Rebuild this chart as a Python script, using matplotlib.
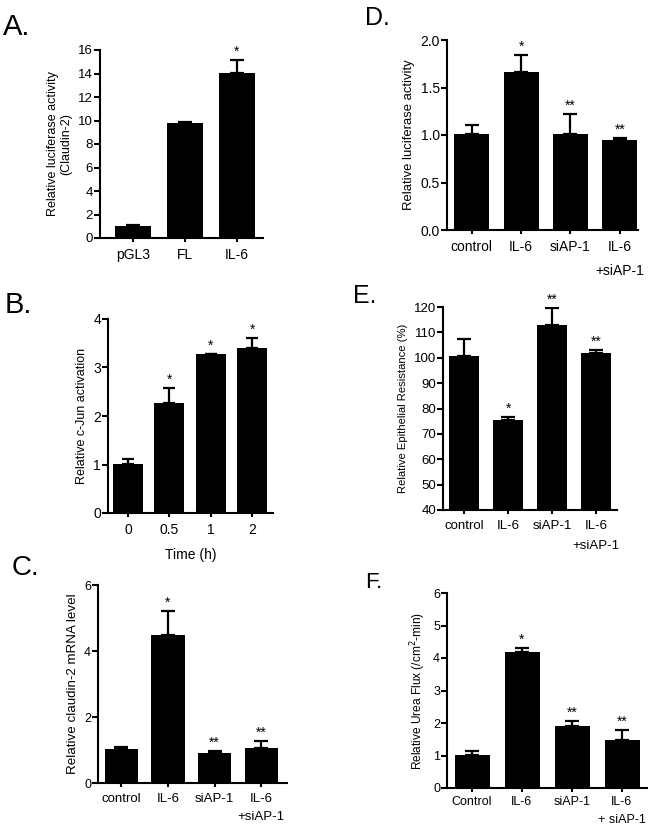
import matplotlib
matplotlib.use('Agg')
import matplotlib.pyplot as plt

plt.rcParams['font.family'] = ['Liberation Sans', 'DejaVu Sans']

W, H = 652, 826

# Panel A
a_labels = ['pGL3', 'FL', 'IL-6']
a_vals = [1.0, 9.75, 14.05]
a_errs = [0.08, 0.12, 1.1]
a_stars = ['', '', '*']

# Panel B
b_labels = ['0', '0.5', '1', '2']
b_vals = [1.02, 2.27, 3.27, 3.40]
b_errs = [0.1, 0.3, 0.01, 0.2]
b_stars = ['', '*', '*', '*']

# Panel C
c_labels = ['control', 'IL-6', 'siAP-1', 'IL-6\n+siAP-1']
c_vals = [1.03, 4.47, 0.92, 1.07]
c_errs = [0.07, 0.75, 0.04, 0.2]
c_stars = ['', '*', '**', '**']

# Panel D
d_labels = ['control', 'IL-6', 'siAP-1', 'IL-6\n+siAP-1']
d_vals = [1.01, 1.66, 1.01, 0.95]
d_errs = [0.09, 0.18, 0.21, 0.02]
d_stars = ['', '*', '**', '**']

# Panel E
e_labels = ['control', 'IL-6', 'siAP-1', 'IL-6\n+siAP-1']
e_vals = [100.5, 75.3, 113.0, 101.7]
e_errs = [7.0, 1.5, 6.5, 1.2]
e_stars = ['', '*', '**', '**']

# Panel F
f_labels = ['Control', 'IL-6', 'siAP-1', 'IL-6\n+ siAP-1']
f_vals = [1.03, 4.18, 1.90, 1.48]
f_errs = [0.12, 0.12, 0.17, 0.32]
f_stars = ['', '*', '**', '**']


def px_axes(fig, left, right, top, bottom):
  return fig.add_axes([left / W, 1 - bottom / H, (right - left) / W, (bottom - top) / H])


def bar_panel(ax, labels, vals, errs, stars, width, xlim, ylim, yticks,
              ylabel, ylab_fs, tick_fs, xtick_fs, capsize=5, linespacing=1.9, xpad=4):
  x = list(range(len(vals)))
  ax.bar(x, vals, width=width, color='black', zorder=2)
  ax.errorbar(x, vals, yerr=[[0] * len(errs), errs], fmt='none', ecolor='black',
              elinewidth=1.6, capsize=capsize, capthick=1.6, zorder=1)
  for xi, v, e, s in zip(x, vals, errs, stars):
    if s:
      ax.annotate(s, (xi, v + e), xytext=(0, 3), textcoords='offset points',
                  ha='center', va='baseline', fontsize=10)
  ax.set_xlim(*xlim)
  ax.set_ylim(*ylim)
  ax.set_yticks(yticks)
  ax.set_xticks(x)
  ax.set_xticklabels(labels, fontsize=xtick_fs)
  for t in ax.get_xticklabels():
    t.set_linespacing(linespacing)
  ax.set_ylabel(ylabel, fontsize=ylab_fs, labelpad=4)
  for side in ['top', 'right']:
    ax.spines[side].set_visible(False)
  for side in ['left', 'bottom']:
    ax.spines[side].set_linewidth(1.5)
  ax.tick_params(axis='y', direction='out', length=4, width=1.5, labelsize=tick_fs, pad=1)
  ax.tick_params(axis='x', direction='out', length=3, width=1.5, pad=xpad)


fig = plt.figure(figsize=(W / 100, H / 100), dpi=100)

ax = px_axes(fig, 100, 263, 50, 238)
bar_panel(ax, a_labels, a_vals, a_errs, a_stars, 0.71, (-0.635, 2.5), (0, 16),
          range(0, 17, 2), 'Relative luciferase activity\n(Claudin-2)', 9, 9.5, 10)

ax = px_axes(fig, 108, 273, 319, 513)
bar_panel(ax, b_labels, b_vals, b_errs, b_stars, 0.73, (-0.48, 3.5), (0, 4),
          range(0, 5), 'Relative c-Jun activation', 9, 10, 10, capsize=4)
ax.set_xlabel('Time (h)', fontsize=10, labelpad=8)

ax = px_axes(fig, 98, 287, 585, 783)
bar_panel(ax, c_labels, c_vals, c_errs, c_stars, 0.71, (-0.5, 3.55), (0, 6),
          [0, 2, 4, 6], 'Relative claudin-2 mRNA level', 9.6, 9, 9.5,
          linespacing=1.75)

ax = px_axes(fig, 447, 638, 40, 230)
bar_panel(ax, d_labels, d_vals, d_errs, d_stars, 0.71, (-0.5, 3.37), (0, 2.0),
          [0, 0.5, 1.0, 1.5, 2.0], 'Relative luciferase activity', 9.4, 10, 10)
ax.set_yticklabels(['0.0', '0.5', '1.0', '1.5', '2.0'])

ax = px_axes(fig, 443, 617, 307, 510)
bar_panel(ax, e_labels, e_vals, e_errs, e_stars, 0.7, (-0.48, 3.48), (40, 120),
          range(40, 121, 10), 'Relative Epithelial Resistance (%)', 8.1, 9.5, 9.5)

ax = px_axes(fig, 447, 647, 593, 788)
bar_panel(ax, f_labels, f_vals, f_errs, f_stars, 0.7, (-0.5, 3.5), (0, 6),
          range(0, 7), 'Relative Urea Flux (/cm$^2$-min)', 8.6, 9, 9,
          linespacing=1.6, xpad=3)

for lab, x, y, fs in [('A.', 3, 35, 21), ('B.', 5, 313, 21), ('C.', 12, 575, 20),
                      ('D.', 365, 25, 18), ('E.', 353, 303, 18), ('F.', 365, 588, 16)]:
  fig.text(x / W, 1 - y / H, lab, fontsize=fs, ha='left', va='baseline')

fig.savefig('out.png', dpi=100)
